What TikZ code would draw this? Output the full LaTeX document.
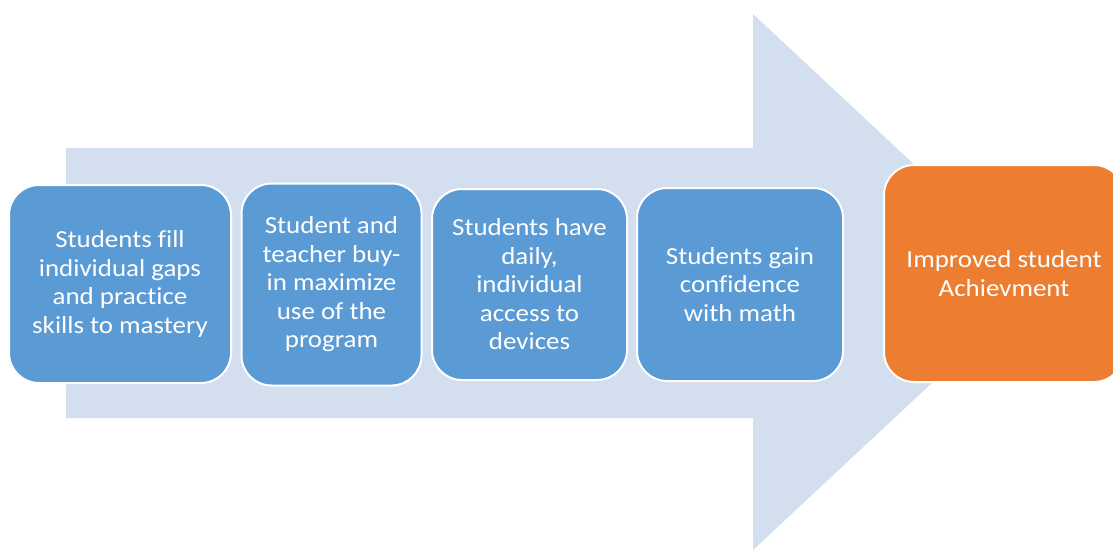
\documentclass[tikz,border=0pt]{standalone}
\usepackage{fontspec}
\setmainfont{Carlito}[FakeStretch=1.1, Ligatures=CommonOff]
\definecolor{arrowbg}{HTML}{D3DEEE}
\definecolor{boxblue}{HTML}{5B9BD5}
\definecolor{boxorange}{HTML}{ED7D31}
\tikzset{
  stage/.style={draw=white, line width=2pt, rounded corners=30pt, fill=boxblue,
    text=white, align=center, inner sep=0pt,
    font=\fontsize{24.5}{28.5}\selectfont},
  goal/.style={stage, fill=boxorange}
}
\begin{document}
\begin{tikzpicture}[x=1pt,y=-1pt]
\useasboundingbox (0,0) rectangle (1113,550);
\clip (0,0) rectangle (1113,550);
% big background arrow
\fill[arrowbg] (66,148) -- (753,148) -- (753,14) -- (1040,282) -- (753,550) -- (753,418) -- (66,418) -- cycle;
% stages
\node[stage, minimum width=222pt, minimum height=198pt] (s1) at (120,284) {Students fill\\individual gaps\\and practice\\skills to mastery};
\node[stage, minimum width=180pt, minimum height=202pt] (s2) at (331.5,284.5) {Student and\\teacher buy-\\in maximize\\use of the\\program};
\node[stage, minimum width=195pt, minimum height=191pt] (s3) at (529.5,284.5) {Students have\\daily,\\individual\\access to\\devices};
\node[stage, minimum width=206pt, minimum height=193pt] (s4) at (740,284.5) {Students gain\\confidence\\with math};
\node[goal, minimum width=240pt, minimum height=217pt] (g) at (1004,273.5) {Improved student\\Achievment};
\end{tikzpicture}
\end{document}
